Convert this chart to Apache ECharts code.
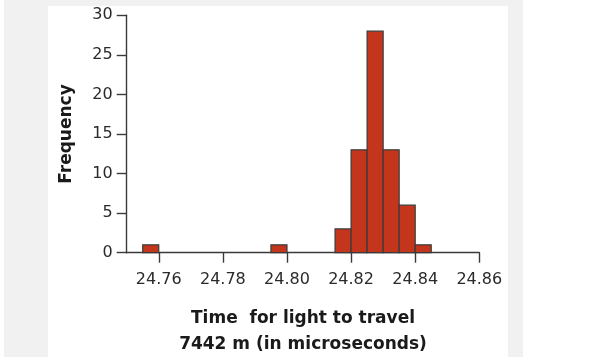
<!DOCTYPE html>
<html>
<head>
<meta charset="utf-8">
<script src="https://cdn.jsdelivr.net/npm/echarts@6/dist/echarts.min.js"></script>
<style>html,body{margin:0;padding:0;background:#fff}#c{width:601px;height:357px}</style>
</head>
<body>
<div id="c"></div>
<script>
// Histogram bins (microseconds) and frequencies
const binStarts = [24.755, 24.795, 24.815, 24.820, 24.825, 24.830, 24.835, 24.840];
const binEnds   = [24.760, 24.800, 24.820, 24.825, 24.830, 24.835, 24.840, 24.845];
const counts    = [1, 1, 3, 13, 28, 13, 6, 1];
const xTicks = [24.76, 24.78, 24.80, 24.82, 24.84, 24.86];
const yTicks = [0, 5, 10, 15, 20, 25, 30];

const FONT = 'DejaVu Sans';
const axisColor = '#3a3a3a';
const data = binStarts.map((s, i) => [s, binEnds[i], counts[i]]);

const chart = echarts.init(document.getElementById('c'), null, {renderer: 'canvas'});
chart.setOption({
  animation: false,
  backgroundColor: '#ffffff',
  graphic: [
    {type: 'rect', z: -10, silent: true, shape: {x: 4, y: 0, width: 519, height: 357}, style: {fill: '#f1f1f1'}},
    {type: 'rect', z: -9, silent: true, shape: {x: 48, y: 6, width: 460, height: 351}, style: {fill: '#ffffff'}}
  ],
  grid: {left: 126.7, right: 121.7, top: 15.3, bottom: 104.3, containLabel: false, outerBoundsMode: 'none'},
  xAxis: {
    type: 'value', min: 24.75, max: 24.86,
    axisLine: {show: true, lineStyle: {color: axisColor, width: 1.4}},
    axisTick: {show: true, length: 10, customValues: xTicks, lineStyle: {color: axisColor, width: 1.4}},
    axisLabel: {show: true, customValues: xTicks, margin: 19, color: '#2a2a2a', fontFamily: FONT, fontSize: 16,
      formatter: v => v.toFixed(2)},
    splitLine: {show: false},
    name: 'Time  for light to travel\n7442 m (in microseconds)',
    nameLocation: 'middle', nameGap: 53,
    nameTextStyle: {fontFamily: FONT, fontWeight: 'bold', fontSize: 17, color: '#1a1a1a', lineHeight: 26}
  },
  yAxis: {
    type: 'value', min: 0, max: 30,
    axisLine: {show: true, lineStyle: {color: axisColor, width: 1.4}},
    axisTick: {show: true, length: 10, customValues: yTicks, lineStyle: {color: axisColor, width: 1.4}},
    axisLabel: {show: true, customValues: yTicks, margin: 14, color: '#2a2a2a', fontFamily: FONT, fontSize: 16},
    splitLine: {show: false},
    name: 'Frequency', nameLocation: 'middle', nameGap: 52, nameRotate: 90,
    nameTextStyle: {fontFamily: FONT, fontWeight: 'bold', fontSize: 17, color: '#1a1a1a'}
  },
  series: [{
    type: 'custom',
    data: data,
    encode: {x: [0, 1], y: 2},
    renderItem: function (params, api) {
      const p0 = api.coord([api.value(0), api.value(2)]);
      const p1 = api.coord([api.value(1), 0]);
      return {
        type: 'rect',
        shape: {x: p0[0], y: p0[1], width: p1[0] - p0[0], height: p1[1] - p0[1]},
        style: {fill: '#c4361c', stroke: '#3a3a3a', lineWidth: 1.2}
      };
    }
  }]
});
</script>
</body>
</html>
